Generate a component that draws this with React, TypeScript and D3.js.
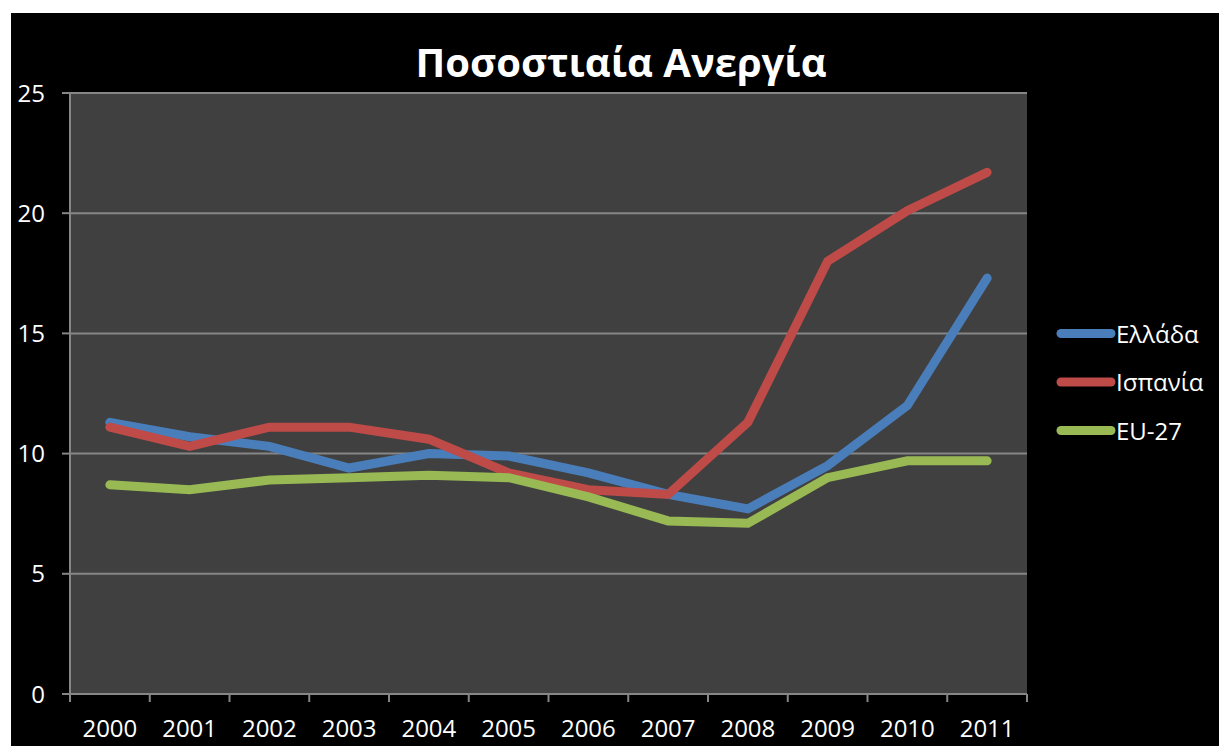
import React from "react";
import * as d3 from "d3";

const years = ["2000","2001","2002","2003","2004","2005","2006","2007","2008","2009","2010","2011"];
const greece = [11.3, 10.7, 10.3, 9.4, 10.0, 9.9, 9.2, 8.3, 7.7, 9.5, 12.0, 17.3];
const spain = [11.1, 10.3, 11.1, 11.1, 10.6, 9.2, 8.5, 8.3, 11.3, 18.0, 20.1, 21.7];
const eu27 = [8.7, 8.5, 8.9, 9.0, 9.1, 9.0, 8.2, 7.2, 7.1, 9.0, 9.7, 9.7];
const yTicks = [0, 5, 10, 15, 20, 25];
const seriesNames = ["Ελλάδα", "Ισπανία", "EU-27"];
const seriesColors = ["#4A7EBB", "#BE4B48", "#98B954"];
const title = "Ποσοστιαία Ανεργία";

const W = 1219, H = 746;
const left = 70, right = 1027, top = 93, bottom = 694;
const font = "'Open Sans', 'Noto Sans', sans-serif";

export default function App() {
  const x = d3.scaleBand<string>().domain(years).range([left, right]);
  const y = d3.scaleLinear().domain([0, 25]).range([bottom, top]);
  const series = [greece, spain, eu27];
  const line = d3.line<number>()
    .x((_, i) => (x(years[i]) as number) + x.bandwidth() / 2)
    .y((d) => y(d));
  const grid = "#868686";
  const xTickPos = years.map((yr) => x(yr) as number).concat([right]);
  return (
    <svg width={W} height={H} style={{ position: "absolute", left: 0, top: 0 }}>
      <rect x={0} y={0} width={W} height={H} fill="#fff" />
      <rect x={11} y={13} width={W - 11} height={H - 13} fill="#000" />
      <rect x={left} y={top} width={right - left} height={bottom - top} fill="#404040" />
      {yTicks.map((t) => (
        <g key={t}>
          {t > 0 && <line x1={left} x2={right} y1={y(t)} y2={y(t)} stroke={grid} strokeWidth={2} />}
          <line x1={left - 8} x2={left} y1={y(t)} y2={y(t)} stroke={grid} strokeWidth={2} />
          <text x={45} y={y(t) + 8.5} fill="#fff" fontSize={24} fontFamily={font} textAnchor="end">{t}</text>
        </g>
      ))}
      <line x1={left} x2={left} y1={top} y2={bottom} stroke={grid} strokeWidth={2} />
      <line x1={left} x2={right} y1={bottom} y2={bottom} stroke={grid} strokeWidth={2} />
      {xTickPos.map((p, i) => (
        <line key={i} x1={p} x2={p} y1={bottom} y2={bottom + 8} stroke={grid} strokeWidth={2} />
      ))}
      {years.map((yr) => (
        <text key={yr} x={(x(yr) as number) + x.bandwidth() / 2} y={737} fill="#fff" fontSize={24} fontFamily={font} textAnchor="middle">{yr}</text>
      ))}
      {series.map((s, i) => (
        <path key={i} d={line(s) || ""} fill="none" stroke={seriesColors[i]} strokeWidth={9} strokeLinecap="round" strokeLinejoin="miter" />
      ))}
      <text x={621} y={77} fill="#fff" fontSize={40} fontWeight="bold" fontFamily={font} textAnchor="middle">{title}</text>
      {seriesNames.map((n, i) => (
        <g key={n}>
          <line x1={1061} x2={1111} y1={333.5 + i * 48.5} y2={333.5 + i * 48.5} stroke={seriesColors[i]} strokeWidth={9} strokeLinecap="round" />
          <text x={1116} y={333.5 + i * 48.5 + 9} fill="#fff" fontSize={24} fontFamily={font}>{n}</text>
        </g>
      ))}
    </svg>
  );
}
